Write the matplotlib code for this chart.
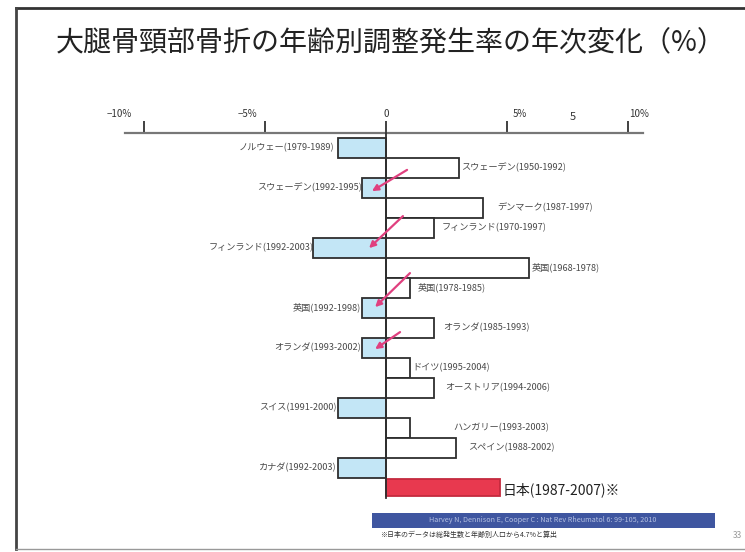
import matplotlib
matplotlib.use("Agg")
import matplotlib.pyplot as plt
from matplotlib.patches import Rectangle

plt.rcParams['font.family'] = ['Noto Sans CJK JP', 'DejaVu Sans']

# ---- data -------------------------------------------------------------
labels = [
    "ノルウェー(1979-1989)",
    "スウェーデン(1950-1992)",
    "スウェーデン(1992-1995)",
    "デンマーク(1987-1997)",
    "フィンランド(1970-1997)",
    "フィンランド(1992-2003)",
    "英国(1968-1978)",
    "英国(1978-1985)",
    "英国(1992-1998)",
    "オランダ(1985-1993)",
    "オランダ(1993-2002)",
    "ドイツ(1995-2004)",
    "オーストリア(1994-2006)",
    "スイス(1991-2000)",
    "ハンガリー(1993-2003)",
    "スペイン(1988-2002)",
    "カナダ(1992-2003)",
    "日本(1987-2007)※",
]
values = [-2.0, 3.0, -1.0, 4.0, 2.0, -3.0, 5.9, 1.0, -1.0, 2.0,
          -1.0, 1.0, 2.0, -2.0, 1.0, 2.9, -2.0, 4.7]
tick_values = [-10, -5, 0, 5, 10]
tick_labels = ["−10%", "−5%", "0", "5%", "10%"]
stray_tick = (7.7, "5")
# (earlier period row, later period row) pairs marked with an arrow
arrow_pairs = [(1, 2), (4, 5), (6, 8), (9, 10)]

title = "大腿骨頸部骨折の年齢別調整発生率の年次変化（%）"
source = "Harvey N, Dennison E, Cooper C : Nat Rev Rheumatol 6: 99-105, 2010"
footnote = "※日本のデータは総発生数と年齢別人口から4.7%と算出"
page_no = "33"

# ---- layout / style ---------------------------------------------------
W, H = 745, 552
label_gap = [0.15, 0.12, 0.0, 0.58, 0.3, 0.0, 0.12, 0.3, 0.05, 0.37,
             0.05, 0.08, 0.45, 0.05, 1.8, 0.5, 0.05, 0.12]
tick_label_dx = [-18, -13, 0, 9, 8]          # points
arrow_start = [(0.87, 0.12), (0.70, -0.57), (0.99, 0.28), (0.58, 0.23)]
arrow_end_dx = [-0.58, -0.70, -0.45, -0.45]
arrow_end_dy = [0.18, 0.03, -0.02, 0.08]

NEG_COLOR = "#c3e6f6"
POS_COLOR = "#ffffff"
JP_COLOR = "#e8394f"
EDGE = "#2e2e2e"
ARROW = "#e0407f"

fig = plt.figure(figsize=(W / 100, H / 100), dpi=100)

# chart axes placed in pixel terms: zero at x=386, 24.2 px per %, 20 px rows
zero_px, px_per_pct = 386, 24.2
row0_px, row_px = 147.5, 20.0
xlo, xhi = -11, 11
ytop, ybot = -2.6, 17.9
left_px = zero_px + xlo * px_per_pct
top_px = row0_px + ytop * row_px
bot_px = row0_px + ybot * row_px
ax = fig.add_axes([left_px / W, 1 - bot_px / H,
                   (xhi - xlo) * px_per_pct / W, (bot_px - top_px) / H])
ax.set_xlim(xlo, xhi)
ax.set_ylim(ybot, ytop)
ax.patch.set_visible(False)

rows = list(range(len(values)))
colors = [JP_COLOR if i == len(values) - 1 else (NEG_COLOR if v < 0 else POS_COLOR)
          for i, v in enumerate(values)]
edges = ["#c42a3e" if i == len(values) - 1 else EDGE for i in rows]
heights = [0.85 if i == len(values) - 1 else 1.0 for i in rows]
ax.barh(rows, values, height=heights, color=colors, edgecolor=edges,
        linewidth=1.3, zorder=2)

# zero line
axis_y = -0.725
ax.plot([0, 0], [axis_y, len(values) - 0.5], color=EDGE, lw=1.3, zorder=3)

# top axis with ticks
for s in ("left", "right", "bottom"):
    ax.spines[s].set_visible(False)
ax.spines["top"].set_position(("data", axis_y))
ax.spines["top"].set_bounds(-10.8, 10.6)
ax.spines["top"].set_color("#777777")
ax.spines["top"].set_linewidth(1.6)
ax.xaxis.set_ticks_position("top")
ax.set_xticks(tick_values)
ax.tick_params(axis="x", direction="out", length=8.5, width=1.3, color="#333333",
               labeltop=False, labelbottom=False)
ax.set_yticks([])
for t, v in zip(ax.xaxis.get_major_ticks(), tick_values):
    if v == 0:
        t.tick2line.set_color("#cccccc")
for v, lab, dx in zip(tick_values, tick_labels, tick_label_dx):
    ax.annotate(lab, xy=(v, axis_y), xytext=(dx, 14), textcoords="offset points",
                ha="center", va="center", fontsize=7, color="#333333")
ax.annotate(stray_tick[1], xy=(stray_tick[0], axis_y), xytext=(0, 11.5),
            textcoords="offset points", ha="center", va="center",
            fontsize=8, color="#333333")

# bar labels
for i, (v, lab, g) in enumerate(zip(values, labels, label_gap)):
    if i == len(values) - 1:
        ax.text(v + g, i + 0.1, lab, ha="left", va="center", fontsize=10,
                color="#222222")
    elif v < 0:
        ax.text(v - g, i, lab, ha="right", va="center", fontsize=6.6,
                color="#4a4a4a")
    else:
        ax.text(v + g, i, lab, ha="left", va="center", fontsize=6.6,
                color="#4a4a4a")

# arrows from an earlier period to the following one
for (r0, r1), (sx, sdy), edx, edy in zip(arrow_pairs, arrow_start,
                                         arrow_end_dx, arrow_end_dy):
    ax.annotate("", xy=(edx, r1 + edy), xytext=(sx, r0 + sdy),
                arrowprops=dict(arrowstyle="-|>", color=ARROW, lw=1.6,
                                mutation_scale=9, shrinkA=0, shrinkB=0),
                zorder=5)

# ---- slide decoration overlay (pixel coordinates) ---------------------
ov = fig.add_axes([0, 0, 1, 1])
ov.set_xlim(0, W)
ov.set_ylim(H, 0)
ov.axis("off")
ov.patch.set_visible(False)

ov.plot([16, W], [8, 8], color="#333333", lw=2.0)
ov.plot([16, 16], [8, 549], color="#444444", lw=2.0)
ov.plot([16, W], [549, 549], color="#999999", lw=1.0)

ov.text(56, 42, title, ha="left", va="center", fontsize=20.2, color="#222222")

ov.add_patch(Rectangle((372, 513), 343, 15, facecolor="#3f56a0", edgecolor="none"))
ov.text(543, 520.5, source, ha="center", va="center", fontsize=5.2,
        color="#b4c0e2")
ov.text(380, 535, footnote, ha="left", va="center", fontsize=5, color="#333333")
ov.text(733, 536, page_no, ha="left", va="center", fontsize=6, color="#999999")

fig.savefig("out.png", dpi=100)
